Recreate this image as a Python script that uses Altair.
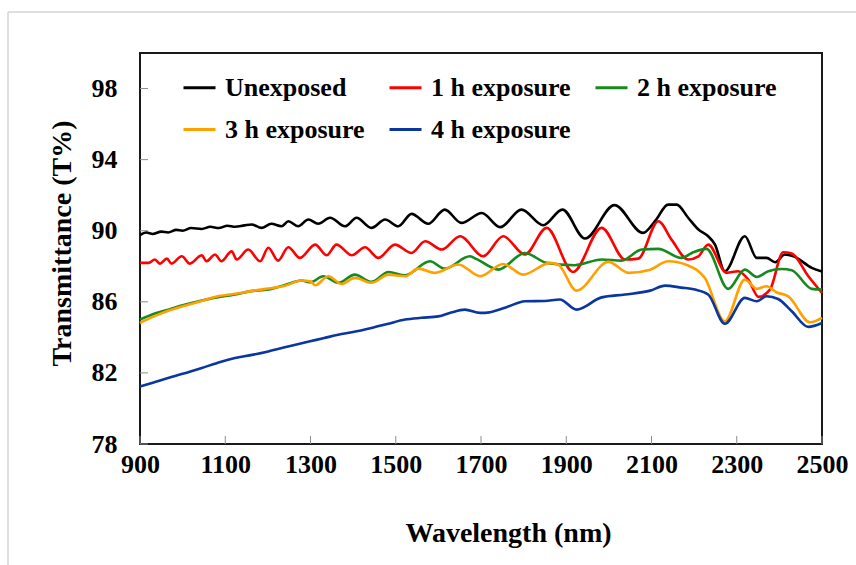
import altair as alt
import pandas as pd

# Series names and line colours
series = ["Unexposed", "1 h exposure", "2 h exposure", "3 h exposure", "4 h exposure"]
colors = ["#000000", "#FF0000", "#168A1E", "#FFA000", "#0A36A0"]

# Tick values
x_ticks = [900, 1100, 1300, 1500, 1700, 1900, 2100, 2300, 2500]
y_ticks = [78, 82, 86, 90, 94, 98]

# Unexposed
wl_unexposed = [900, 915, 930, 950, 966, 985, 1000, 1020, 1045, 1065, 1085, 1105, 1123, 1145,
                1162, 1185, 1208, 1232, 1248, 1271, 1295, 1318, 1346, 1381, 1408, 1443, 1475,
                1506, 1537, 1576, 1615, 1654, 1702, 1745, 1795, 1846, 1891, 1944, 2013, 2080,
                2110, 2139, 2159, 2186, 2210, 2233, 2249, 2272, 2319, 2347, 2370, 2390, 2413,
                2433, 2476, 2500]
t_unexposed = [89.75, 89.9, 89.82, 89.95, 89.9, 90.05, 90.0, 90.15, 90.1, 90.22, 90.15, 90.28,
               90.22, 90.3, 90.35, 90.16, 90.39, 90.25, 90.53, 90.25, 90.63, 90.39, 90.73, 90.25,
               90.73, 90.16, 90.63, 90.25, 90.95, 90.39, 91.19, 90.44, 91.0, 90.2, 91.19, 90.31,
               91.19, 89.56, 91.44, 89.88, 90.6, 91.47, 91.47, 90.73, 90.07, 89.69, 89.22, 87.72,
               89.69, 88.47, 88.47, 88.23, 88.66, 88.56, 87.91, 87.7]

# 1 h exposure
wl_1h = [900, 920, 935, 947, 963, 974, 998, 1017, 1045, 1056, 1076, 1091, 1115, 1127, 1154,
         1182, 1201, 1224, 1248, 1275, 1311, 1338, 1361, 1397, 1428, 1459, 1498, 1537, 1569,
         1608, 1651, 1705, 1752, 1803, 1854, 1916, 1983, 2038, 2069, 2116, 2147, 2186, 2210,
         2233, 2276, 2303, 2327, 2351, 2378, 2409, 2429, 2468, 2500]
t_1h = [88.19, 88.19, 88.38, 88.15, 88.43, 88.15, 88.56, 88.15, 88.62, 88.28, 88.66, 88.28,
        88.84, 88.38, 88.94, 88.28, 89.04, 88.32, 89.07, 88.47, 89.22, 88.62, 89.22, 88.62,
        89.07, 88.47, 89.22, 88.75, 89.41, 88.94, 89.69, 88.56, 89.69, 88.66, 90.16, 87.68,
        90.16, 88.38, 88.43, 90.53, 89.5, 88.38, 88.56, 89.22, 87.63, 87.72, 87.25, 86.28,
        86.69, 88.79, 88.72, 87.44, 86.5]

# 2 h exposure
wl_2h = [900, 930, 966, 1000, 1045, 1080, 1123, 1160, 1201, 1240, 1279, 1300, 1330, 1365,
         1404, 1443, 1483, 1522, 1580, 1615, 1674, 1690, 1741, 1803, 1854, 1920, 1983, 2030,
         2077, 2116, 2170, 2198, 2229, 2280, 2319, 2347, 2374, 2405, 2429, 2476, 2500]
t_2h = [85.0, 85.3, 85.56, 85.8, 86.07, 86.25, 86.41, 86.6, 86.69, 86.95, 87.2, 87.1, 87.44,
        87.07, 87.53, 87.12, 87.68, 87.49, 88.28, 87.87, 88.56, 88.4, 87.81, 88.75, 88.19,
        88.06, 88.38, 88.32, 88.94, 88.98, 88.47, 88.79, 88.98, 86.73, 87.81, 87.4, 87.72,
        87.85, 87.78, 86.73, 86.69]

# 3 h exposure
wl_3h = [900, 930, 966, 1000, 1045, 1080, 1123, 1160, 1201, 1240, 1279, 1300, 1311, 1342,
         1373, 1404, 1443, 1483, 1522, 1553, 1592, 1647, 1698, 1752, 1799, 1862, 1881, 1924,
         1999, 2046, 2097, 2139, 2186, 2225, 2272, 2319, 2347, 2370, 2393, 2421, 2472, 2500]
t_3h = [84.81, 85.15, 85.5, 85.75, 86.05, 86.3, 86.45, 86.6, 86.75, 86.9, 87.2, 87.15, 86.93,
        87.44, 87.0, 87.35, 87.07, 87.53, 87.44, 87.87, 87.63, 88.1, 87.44, 88.13, 87.53,
        88.19, 88.1, 86.63, 88.25, 87.63, 87.81, 88.28, 88.04, 87.35, 84.9, 87.25, 86.73,
        86.88, 86.54, 86.31, 84.85, 85.1]

# 4 h exposure
wl_4h = [900, 930, 966, 1000, 1045, 1080, 1123, 1160, 1201, 1250, 1299, 1330, 1365, 1400,
         1443, 1480, 1522, 1560, 1600, 1630, 1662, 1698, 1709, 1760, 1803, 1850, 1885, 1924,
         1983, 2038, 2097, 2132, 2170, 2202, 2233, 2272, 2319, 2347, 2370, 2397, 2429, 2468,
         2500]
t_4h = [81.24, 81.45, 81.72, 81.95, 82.28, 82.55, 82.84, 83.0, 83.21, 83.5, 83.78, 83.95,
        84.15, 84.3, 84.53, 84.75, 85.0, 85.1, 85.18, 85.4, 85.56, 85.38, 85.38, 85.7, 86.03,
        86.05, 86.13, 85.56, 86.25, 86.41, 86.63, 86.91, 86.8, 86.69, 86.41, 84.77, 86.22,
        86.03, 86.31, 86.16, 85.47, 84.59, 84.81]

all_wl = [wl_unexposed, wl_1h, wl_2h, wl_3h, wl_4h]
all_t = [t_unexposed, t_1h, t_2h, t_3h, t_4h]

rows = []
for name, wls, ts in zip(series, all_wl, all_t):
    for w, v in zip(wls, ts):
        rows.append({"series": name, "wavelength": w, "T": v})
df = pd.DataFrame(rows)

W, H = 682, 391
FONT = "Liberation Serif"

x_scale = alt.Scale(domain=[900, 2500], nice=False, zero=False)
y_scale = alt.Scale(domain=[78, 100], nice=False, zero=False)

lines = alt.Chart(df).mark_line(strokeWidth=2.6, interpolate="monotone").encode(
    x=alt.X("wavelength:Q", scale=x_scale,
            axis=alt.Axis(values=x_ticks, format="d", labelOverlap=False, labelFlush=False,
                          title="Wavelength (nm)", labelPadding=7,
                          titleX=368, titleY=97, titleBaseline="alphabetic")),
    y=alt.Y("T:Q", scale=y_scale,
            axis=alt.Axis(values=y_ticks, format="d", labelOverlap=False, labelFlush=False,
                          title="Transmittance (T%)", labelPadding=23,
                          titleX=-78, titleY=190, titleBaseline="middle")),
    color=alt.Color("series:N", scale=alt.Scale(domain=series, range=colors),
                    legend=alt.Legend(orient="none", legendX=42, legendY=17, columns=3,
                                      direction="horizontal", columnPadding=18, rowPadding=11,
                                      symbolType="stroke", symbolSize=1024,
                                      symbolStrokeWidth=3, labelFont=FONT,
                                      labelFontWeight="bold", labelFontSize=26,
                                      labelColor="black", labelOffset=8, title=None)),
)

# Inward tick marks
y_tick_df = pd.DataFrame({"T": y_ticks})
x_tick_df = pd.DataFrame({"wavelength": x_ticks})

y_tick_marks = alt.Chart(y_tick_df).mark_rule(color="#8c8c8c", strokeWidth=1).encode(
    y=alt.Y("T:Q", scale=y_scale), x=alt.value(0), x2=alt.value(8))
x_tick_marks = alt.Chart(x_tick_df).mark_rule(color="#8c8c8c", strokeWidth=1).encode(
    x=alt.X("wavelength:Q", scale=x_scale), y=alt.value(H), y2=alt.value(H - 8))

# Light outer chart border
frame_top = alt.Chart().mark_rule(color="#d4d4d4", strokeWidth=1.5).encode(
    x=alt.value(-132), x2=alt.value(716), y=alt.value(-41))
frame_left = alt.Chart().mark_rule(color="#d4d4d4", strokeWidth=1.5).encode(
    x=alt.value(-132), y=alt.value(-41), y2=alt.value(512))

chart = alt.layer(frame_top, frame_left, y_tick_marks, x_tick_marks, lines).properties(
    width=W, height=H,
    padding={"left": 140, "top": 53, "right": 34, "bottom": 121},
    autosize=alt.AutoSizeParams(type="none"),
    background="white",
).configure_view(
    stroke="#1a1a1a", strokeWidth=2
).configure_axis(
    domain=False, ticks=False, tickSize=0, grid=False,
    labelFont=FONT, labelFontWeight="bold", labelFontSize=26, labelColor="black",
    titleFont=FONT, titleFontWeight="bold", titleFontSize=28, titleColor="black",
)

chart.save("out.html", embed_options={"renderer": "svg", "actions": False})
